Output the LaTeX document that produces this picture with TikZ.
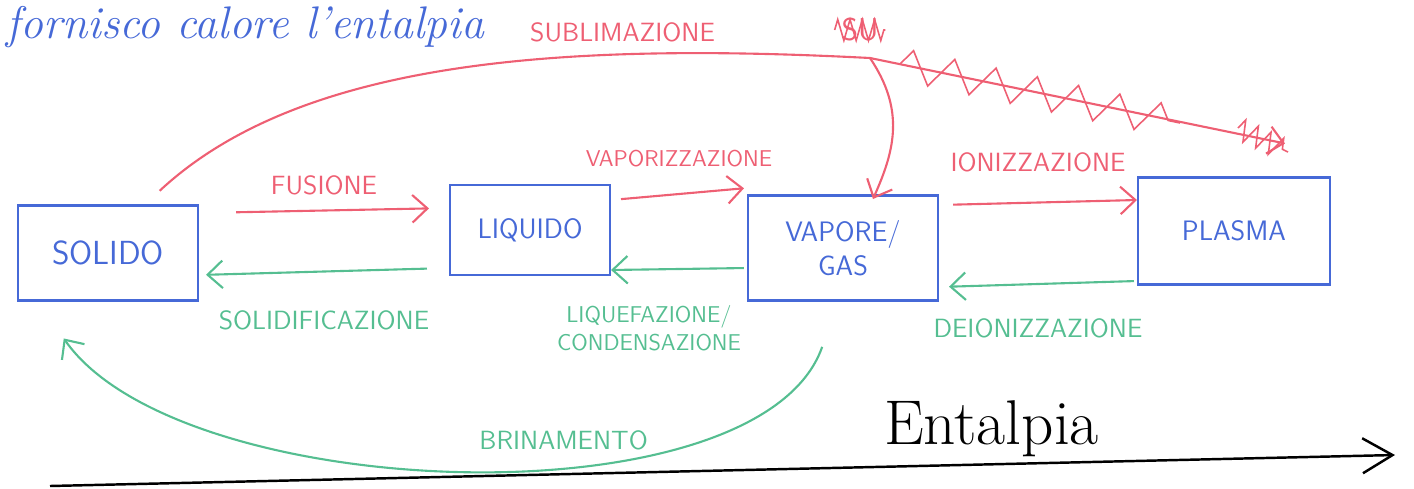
\documentclass[tikz,border=0pt]{standalone}
\usetikzlibrary{arrows.meta, decorations.pathmorphing}
\definecolor{penblue}{RGB}{70,105,215}
\definecolor{penred}{RGB}{238,95,115}
\definecolor{pengreen}{RGB}{85,190,145}
\begin{document}
\begin{tikzpicture}[x=0.02cm, y=-0.02cm, line width=1.2pt,
    stato/.style={draw=penblue, text=penblue, align=center, font=\sffamily\fontsize{16}{19}\selectfont},
    riga/.style={font=\sffamily\fontsize{15}{18}\selectfont, align=center},
    heat/.style={penred, -{Straight Barb[length=0.3cm, width=0.55cm]}},
    cool/.style={pengreen, -{Straight Barb[length=0.3cm, width=0.55cm]}},
    scribble/.style={penred, line width=0.9pt, decorate, decoration={zigzag, segment length=24pt, amplitude=9pt}}]
    \useasboundingbox (0,0) rectangle (1414,488);

    % Note
    \node[anchor=base west, penblue, font=\itshape\fontsize{26}{31}\selectfont] (nota) at (0,38) {fornisco calore l'entalpia};

    % States
    \node[stato, minimum width=3.6cm, minimum height=1.9cm, font=\sffamily\fontsize{19}{22}\selectfont] (solido) at (108,253) {SOLIDO};
    \node[stato, minimum width=3.2cm, minimum height=1.8cm] (liquido) at (530,230) {LIQUIDO};
    \node[stato, minimum width=3.8cm, minimum height=2.1cm] (vapore) at (843,248) {VAPORE/\\GAS};
    \node[stato, minimum width=3.84cm, minimum height=2.14cm] (plasma) at (1234,231) {PLASMA};

    % Heating
    \draw[heat, shorten <=0.74cm, shorten >=0.4cm] ([yshift=0.8cm]solido.east) -- ([yshift=0.44cm]liquido.west)
        node[midway, above=0.18cm, riga] {FUSIONE};
    \draw[heat, shorten <=0.2cm, shorten >=0.06cm] ([yshift=0.6cm]liquido.east) -- ([yshift=1.2cm]vapore.west)
        node[midway, above=0.4cm, riga, font=\sffamily\fontsize{13}{16}\selectfont] {VAPORIZZAZIONE};
    \draw[heat, shorten <=0.28cm] ([yshift=0.86cm]vapore.east) -- ([yshift=0.62cm]plasma.west)
        node[midway, above=0.48cm, riga] {IONIZZAZIONE};

    % Cooling
    \draw[cool, shorten <=0.44cm, shorten >=0.14cm] ([yshift=-0.76cm]liquido.west) -- ([yshift=-0.44cm]solido.east)
        node[midway, below=0.64cm, riga] {SOLIDIFICAZIONE};
    \draw[cool, shorten <=0.06cm] ([yshift=-0.4cm]vapore.west) -- ([yshift=-0.8cm]liquido.east)
        node[midway, below=0.58cm, xshift=-0.6cm, riga, font=\sffamily\fontsize{13}{16}\selectfont] {LIQUEFAZIONE/\\CONDENSAZIONE};
    \draw[cool, shorten <=0.06cm, shorten >=0.2cm] ([yshift=-1.0cm]plasma.west) -- ([yshift=-0.78cm]vapore.east)
        node[midway, below=0.56cm, riga] {DEIONIZZAZIONE};

    % Sublimation
    \coordinate (bivio) at (870,58);
    \draw[penred, shorten <=0.4cm] ([xshift=0.74cm]solido.north) .. controls (300,60) and (560,42) .. (bivio)
        node[pos=0.72, above=0.12cm, riga] {SUBLIMAZIONE};
    \draw[heat, shorten >=-0.1cm] (bivio) .. controls (905,110) and (895,150) .. ([xshift=0.64cm]vapore.north);

    % Crossed out
    \coordinate (punta) at ([xshift=1.02cm, yshift=0.66cm]plasma.north);
    \draw[heat] (bivio) -- (punta);
    \draw[scribble] (900,64) -- (1180,123);
    \draw[scribble, decoration={zigzag, segment length=8pt, amplitude=6pt}] (1238,128) -- (1288,152);
    \node[riga, penred, font=\sffamily\fontsize{18}{21}\selectfont] (su) at (860,30) {SU};
    \draw[scribble, decoration={zigzag, segment length=7pt, amplitude=6pt}] (su.west) -- (su.east);

    % Deposition
    \draw[cool, shorten <=0.96cm, shorten >=0.9cm] ([xshift=-0.1cm]vapore.south) .. controls (760,525) and (180,505) .. ([xshift=-1.4cm]solido.south)
        node[pos=0.4, above=0pt, riga] {BRINAMENTO};

    % Enthalpy
    \coordinate (hstart) at (50,486);
    \coordinate (hend) at (1395,455);
    \draw[black, line width=1.4pt, -{Straight Barb[length=0.6cm, width=0.7cm]}] (hstart) -- (hend)
        node[pos=0.7, above=0pt, font=\fontsize{36}{42}\selectfont] {Entalpia};

\end{tikzpicture}
\end{document}
